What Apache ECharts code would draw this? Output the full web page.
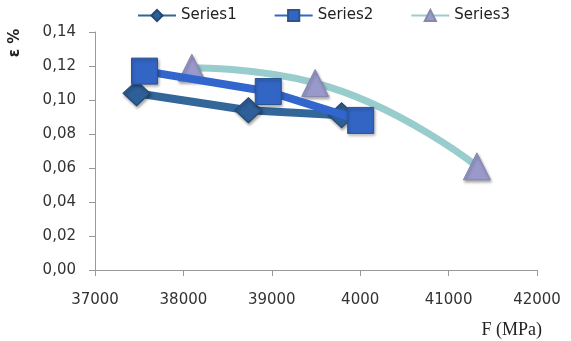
<!DOCTYPE html>
<html><head><meta charset="utf-8">
<script src="https://cdn.jsdelivr.net/npm/echarts@6/dist/echarts.min.js"></script>
<style>html,body{margin:0;padding:0;background:#fff}#c{width:571px;height:341px}</style>
</head><body><div id="c"></div>
<script>
var xTickLabels = ['37000','38000','39000','4000','41000','42000'];
var series1 = [[37470,0.104],[38735,0.094],[39790,0.091]];
var series2 = [[37560,0.117],[38960,0.105],[40005,0.088]];
var series3 = [[38095,0.119],[39490,0.110],[41320,0.061]];

var chart = echarts.init(document.getElementById('c'));
var shadow = {shadowBlur:3, shadowColor:'rgba(0,0,0,0.35)', shadowOffsetX:1, shadowOffsetY:2};
chart.setOption({
  animation:false,
  textStyle:{fontFamily:'DejaVu Sans'},
  legend:{
    top:8, left:137, padding:0, itemGap:37, itemWidth:38, itemHeight:14,
    textStyle:{fontSize:15, color:'#222', fontFamily:'DejaVu Sans'},
    data:['Series1','Series2','Series3']
  },
  grid:{left:95, right:34, top:32, bottom:71},
  xAxis:{
    type:'value', min:37000, max:42000, interval:1000,
    name:'F (MPa)', nameLocation:'end', nameGap:5,
    nameTextStyle:{fontFamily:'Liberation Serif', fontSize:18, color:'#222', align:'right', verticalAlign:'top', padding:[51,0,0,0]},
    axisLine:{lineStyle:{color:'#999', width:1}},
    axisTick:{show:true, length:6, lineStyle:{color:'#999'}},
    splitLine:{show:false},
    axisLabel:{margin:23, fontSize:15, color:'#333',
      formatter:function(v){var i=Math.round((v-37000)/1000);return xTickLabels[i]||'';}}
  },
  yAxis:{
    type:'value', min:0, max:0.14, interval:0.02,
    axisLine:{show:true, lineStyle:{color:'#999', width:1}},
    axisTick:{show:true, length:6, lineStyle:{color:'#999'}},
    splitLine:{show:false},
    axisLabel:{margin:19, fontSize:15, color:'#333',
      formatter:function(v){return v.toFixed(2).replace('.',',');}}
  },
  graphic:[{type:'text', x:15, y:43, rotation:Math.PI/2,
    style:{text:'ε %', fontSize:15, fontWeight:'bold', fill:'#222', fontFamily:'DejaVu Sans', align:'center', verticalAlign:'middle'}}],
  series:[
    {name:'Series1', type:'line', data:series1, symbol:'diamond', symbolSize:[27,25],
     lineStyle:{color:'#336699', width:8}, itemStyle:Object.assign({color:'#2e5f98', borderColor:'#24496f', borderWidth:1},shadow), z:2},
    {name:'Series2', type:'line', data:series2, symbol:'rect', symbolSize:26,
     lineStyle:{color:'#3366cc', width:8}, itemStyle:Object.assign({color:'#3366c4', borderColor:'#2a558f', borderWidth:1},shadow), z:3},
    {name:'Series3', type:'line', data:series3, symbol:'triangle', symbolSize:27, smooth:0.5,
     lineStyle:{color:'#99cccc', width:7}, itemStyle:Object.assign({color:'#9999cc', borderColor:'#8888aa', borderWidth:1},shadow), z:1}
  ]
});
</script></body></html>
